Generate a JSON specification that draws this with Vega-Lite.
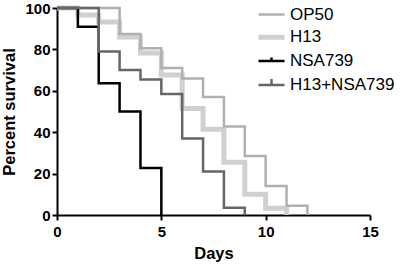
{
  "$schema": "https://vega.github.io/schema/vega-lite/v6.json",
  "autosize": {"type": "none"},
  "padding": {"left": 57, "top": 8, "right": 33, "bottom": 54},
  "width": 313,
  "height": 207,
  "background": "white",
  "config": {
    "view": {"stroke": null},
    "axis": {
      "domainColor": "#000", "domainWidth": 2, "tickColor": "#000", "tickWidth": 2, "tickSize": 5,
      "labelFont": "Liberation Sans", "labelFontWeight": "bold", "labelFontSize": 15, "labelColor": "#000",
      "titleFont": "Liberation Sans", "titleFontWeight": "bold", "titleFontSize": 16.5, "titleColor": "#000",
      "grid": false
    }
  },
  "data": {
    "values": [
      {"series": "OP50", "day": 0, "surv": 100},
      {"series": "OP50", "day": 3, "surv": 87.5},
      {"series": "OP50", "day": 4, "surv": 80.5},
      {"series": "OP50", "day": 5, "surv": 71},
      {"series": "OP50", "day": 6, "surv": 66},
      {"series": "OP50", "day": 7, "surv": 57},
      {"series": "OP50", "day": 8, "surv": 42.7},
      {"series": "OP50", "day": 9, "surv": 28.5},
      {"series": "OP50", "day": 10, "surv": 14},
      {"series": "OP50", "day": 11, "surv": 4.5},
      {"series": "OP50", "day": 12, "surv": 0},
      {"series": "H13", "day": 0, "surv": 100},
      {"series": "H13", "day": 1, "surv": 96.6},
      {"series": "H13", "day": 2, "surv": 93.2},
      {"series": "H13", "day": 3, "surv": 86},
      {"series": "H13", "day": 4, "surv": 78.3},
      {"series": "H13", "day": 5, "surv": 67.6},
      {"series": "H13", "day": 6, "surv": 51.5},
      {"series": "H13", "day": 7, "surv": 41.4},
      {"series": "H13", "day": 8, "surv": 25.5},
      {"series": "H13", "day": 9, "surv": 10},
      {"series": "H13", "day": 10, "surv": 3.3},
      {"series": "H13", "day": 11, "surv": 0},
      {"series": "NSA739", "day": 0, "surv": 100},
      {"series": "NSA739", "day": 1, "surv": 90.9},
      {"series": "NSA739", "day": 2, "surv": 63.6},
      {"series": "NSA739", "day": 3, "surv": 50},
      {"series": "NSA739", "day": 4, "surv": 22.7},
      {"series": "NSA739", "day": 5, "surv": 0},
      {"series": "H13+NSA739", "day": 0, "surv": 100},
      {"series": "H13+NSA739", "day": 2, "surv": 79},
      {"series": "H13+NSA739", "day": 3, "surv": 70},
      {"series": "H13+NSA739", "day": 4, "surv": 65.5},
      {"series": "H13+NSA739", "day": 5, "surv": 58.5},
      {"series": "H13+NSA739", "day": 6, "surv": 37},
      {"series": "H13+NSA739", "day": 7, "surv": 21},
      {"series": "H13+NSA739", "day": 8, "surv": 3.5},
      {"series": "H13+NSA739", "day": 9, "surv": 0}
    ]
  },
  "encoding": {
    "x": {
      "field": "day", "type": "quantitative",
      "scale": {"domain": [0, 15], "nice": false},
      "axis": {"values": [0, 5, 10, 15], "title": "Days", "labelPadding": 4, "titlePadding": 6, "labelFlush": false}
    },
    "y": {
      "field": "surv", "type": "quantitative",
      "scale": {"domain": [0, 100], "nice": false},
      "axis": {"values": [0, 20, 40, 60, 80, 100], "title": "Percent survival", "labelPadding": 2, "titlePadding": 7}
    },
    "color": {
      "field": "series", "type": "nominal",
      "scale": {"domain": ["OP50", "H13", "NSA739", "H13+NSA739"], "range": ["#b0b0b0", "#cfd0d4", "#000000", "#666666"]},
      "legend": {
        "title": null, "orient": "none", "legendX": 206, "legendY": -2,
        "labelFont": "Liberation Sans", "labelFontSize": 17, "labelColor": "#000",
        "symbolType": "M-1.3,0L1.3,0", "symbolSize": 400, "symbolStrokeWidth": 2.5,
        "labelOffset": 10, "rowPadding": 3.8, "padding": 0,
        "encode": {
          "symbols": {
            "update": {
              "shape": {"signal": "datum.value === 'NSA739' ? 'M-1.3,0L1.3,0M0,0L0,-0.35' : (datum.value === 'H13+NSA739' ? 'M-1.3,0L1.3,0M0,0L0,-0.6' : 'M-1.3,0L1.3,0')"},
              "strokeWidth": {"signal": "datum.value === 'H13' ? 5 : 2.5"}
            }
          }
        }
      }
    }
  },
  "layer": [
    {"transform": [{"filter": "datum.series === 'H13'"}], "mark": {"type": "line", "interpolate": "step-after", "strokeWidth": 5}},
    {"transform": [{"filter": "datum.series === 'OP50'"}], "mark": {"type": "line", "interpolate": "step-after", "strokeWidth": 2.5}},
    {"transform": [{"filter": "datum.series === 'NSA739'"}], "mark": {"type": "line", "interpolate": "step-after", "strokeWidth": 2.5}},
    {"transform": [{"filter": "datum.series === 'H13+NSA739'"}], "mark": {"type": "line", "interpolate": "step-after", "strokeWidth": 2.5}}
  ]
}
